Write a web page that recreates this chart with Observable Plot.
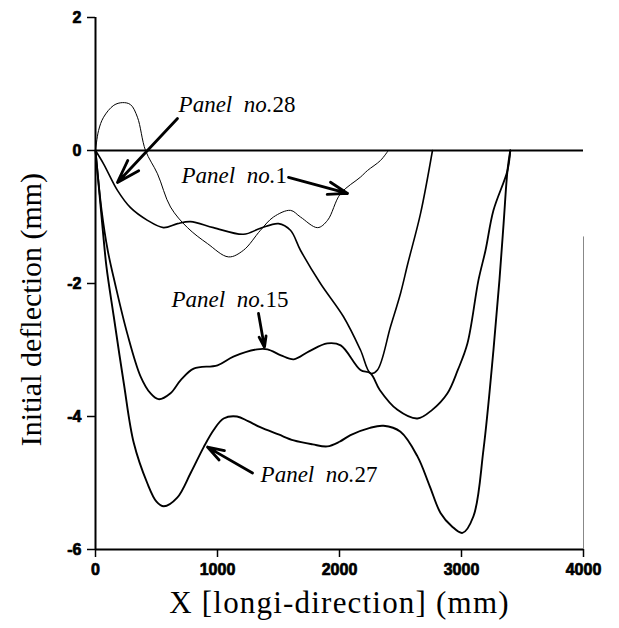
<!DOCTYPE html>
<html><head><meta charset="utf-8">
<script src="https://cdn.jsdelivr.net/npm/d3@7"></script>
<script src="https://cdn.jsdelivr.net/npm/@observablehq/plot@0.6"></script>
<style>body{margin:0;background:#fff}</style>
</head><body><div id="chart"></div>
<script>
const xTicks = [0, 1000, 2000, 3000, 4000];
const yTicks = [-6, -4, -2, 0, 2];
const xLabel = "X [longi-direction] (mm)";
const yLabel = "Initial deflection (mm)";

const panel1 = [[0,0],[25,0.3],[66,0.5],[150,0.68],[221,0.72],[287,0.69],[344,0.5],[410,0],[508,-0.35],[615,-0.85],[754,-1.16],[918,-1.4],[1090,-1.6],[1213,-1.5],[1352,-1.2],[1459,-1.0],[1598,-0.9],[1680,-1.0],[1820,-1.16],[1902,-1.05],[2008,-0.65],[2172,-0.4],[2230,-0.3],[2336,-0.15],[2400,0]];
const panel28 = [[0,0],[66,-0.2],[180,-0.6],[287,-0.86],[426,-1.05],[557,-1.16],[672,-1.1],[779,-1.07],[967,-1.16],[1213,-1.26],[1352,-1.17],[1500,-1.1],[1598,-1.2],[1680,-1.5],[1844,-2.0],[2033,-2.5],[2172,-3.0],[2254,-3.35],[2311,-3.3],[2418,-2.65],[2500,-2.15],[2560,-1.7],[2664,-0.95],[2762,0]];
const panel15 = [[0,0],[50,-0.9],[100,-1.5],[160,-2.0],[260,-2.75],[370,-3.4],[450,-3.65],[517,-3.74],[615,-3.65],[700,-3.45],[805,-3.28],[1000,-3.23],[1130,-3.1],[1325,-2.99],[1410,-2.99],[1520,-3.08],[1625,-3.14],[1750,-3.02],[1900,-2.9],[2010,-2.93],[2172,-3.3],[2254,-3.35],[2330,-3.6],[2475,-3.9],[2639,-4.03],[2760,-3.9],[2885,-3.65],[2970,-3.3],[3049,-2.9],[3139,-1.95],[3197,-1.5],[3262,-0.9],[3377,-0.3],[3400,0]];
const panel27 = [[0,0],[30,-0.6],[60,-1.2],[90,-1.75],[150,-2.5],[232,-3.5],[314,-4.4],[424,-5.0],[500,-5.28],[560,-5.35],[670,-5.22],[780,-4.85],[887,-4.46],[970,-4.2],[1050,-4.03],[1160,-4.0],[1250,-4.07],[1350,-4.16],[1500,-4.27],[1625,-4.36],[1780,-4.42],[1900,-4.45],[2000,-4.38],[2090,-4.28],[2250,-4.17],[2361,-4.14],[2500,-4.23],[2639,-4.6],[2740,-5.05],[2828,-5.45],[2920,-5.65],[3008,-5.75],[3098,-5.5],[3180,-4.5],[3262,-3.0],[3311,-1.95],[3345,-1.1],[3377,-0.3],[3400,0]];

const labelPrefix = "Panel\u00a0 no.";
const labelNumbers = ["28", "1", "15", "27"];
const labelAt = [[1451, 0.69], [1475, -0.375], [1393, -2.24], [2123, -4.88]];
const arrowFrom = [[672, 0.48], [1582, -0.405], [1336, -2.45], [1287, -4.85]];
const arrowTo = [[180, -0.48], [2066, -0.646], [1385, -2.96], [918, -4.46]];

const series = [
  {name: "1", data: panel1, w: 1},
  {name: "28", data: panel28, w: 1.6},
  {name: "15", data: panel15, w: 1.8},
  {name: "27", data: panel27, w: 1.9}
];

const arrows = arrowFrom.map((a, i) => ({x1: a[0], y1: a[1], x2: arrowTo[i][0], y2: arrowTo[i][1]}));
const labels = labelAt.map((p, i) => ({x: p[0], y: p[1], n: labelNumbers[i]}));

const serif = "Liberation Serif, Times New Roman, serif";
const sans = "Liberation Sans, Arial, sans-serif";
const fmt = d => String(d);

const chart = Plot.plot({
  width: 619, height: 628,
  marginLeft: 95, marginRight: 36, marginTop: 17, marginBottom: 79,
  style: {color: "#000", background: "#fff"},
  x: {domain: [0, 4000]},
  y: {domain: [-6, 2]},
  marks: [
    Plot.ruleX([4000], {y1: -6, y2: -1.3, stroke: "#888", strokeWidth: 1}),
    Plot.ruleY([0], {x1: 0, x2: 4000, strokeWidth: 2}),
    Plot.ruleY([-6], {x1: 0, x2: 4000, strokeWidth: 2}),
    Plot.ruleX([0], {y1: -6, y2: 2, strokeWidth: 2}),
    Plot.axisX({ticks: xTicks, tickSize: 8, tickFormat: () => "", label: null, strokeWidth: 1.5}),
    Plot.axisY({ticks: yTicks, tickSize: 8, tickFormat: () => "", label: null, strokeWidth: 1.5}),
    Plot.text(xTicks, {x: d => d, frameAnchor: "bottom", lineAnchor: "top", dy: 14, text: fmt, fontFamily: sans, fontWeight: "bold", fontSize: 16, fill: "#000", stroke: "#000", strokeWidth: 0.7}),
    Plot.text(yTicks, {y: d => d, frameAnchor: "left", textAnchor: "end", lineAnchor: "middle", dx: -14, text: fmt, fontFamily: sans, fontWeight: "bold", fontSize: 16, fill: "#000", stroke: "#000", strokeWidth: 0.7}),
    ...series.map(s => Plot.line(s.data, {x: d => d[0], y: d => d[1], curve: "catmull-rom", stroke: "#000", strokeWidth: s.w})),
    Plot.arrow(arrows, {x1: "x1", y1: "y1", x2: "x2", y2: "y2", stroke: "#000", strokeWidth: 2.8, headLength: 13, headAngle: 36}),
    Plot.text(labels, {x: "x", y: "y", text: () => labelPrefix, textAnchor: "end", fontFamily: serif, fontStyle: "italic", fontSize: 23}),
    Plot.text(labels, {x: "x", y: "y", text: "n", textAnchor: "start", fontFamily: serif, fontSize: 23}),
    Plot.text([xLabel], {frameAnchor: "bottom", lineAnchor: "middle", dy: 54, textAnchor: "middle", fontFamily: serif, fontSize: 31}),
    Plot.text([yLabel], {frameAnchor: "left", rotate: -90, textAnchor: "middle", lineAnchor: "middle", dx: -64, dy: 26, fontFamily: serif, fontSize: 30})
  ]
});
d3.select(chart).selectAll("text").filter(function() { return this.textContent === xLabel; }).style("letter-spacing", "1.2px");
document.getElementById("chart").appendChild(chart);
</script>
</body></html>
